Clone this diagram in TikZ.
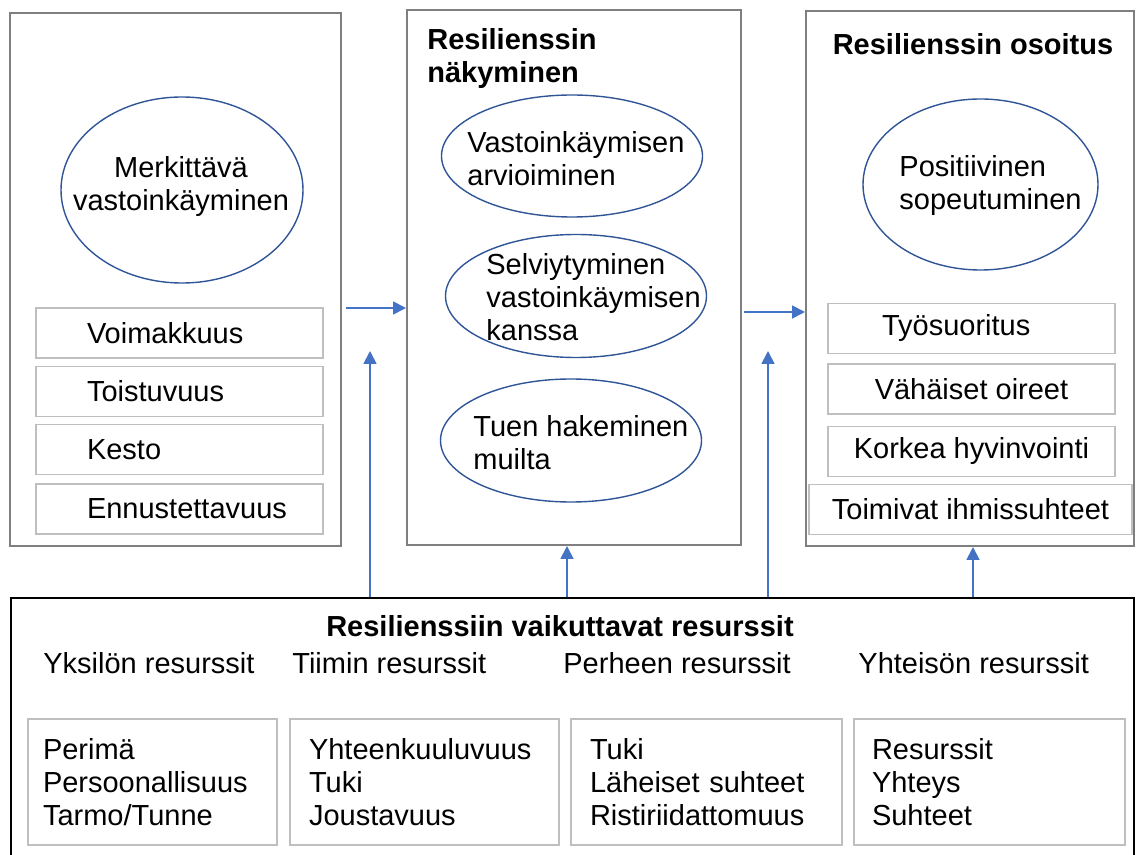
\documentclass[tikz,border=0pt]{standalone}
\usepackage{fontspec}
\setmainfont{Liberation Sans}
\usepackage{pgf,tikz}
\usetikzlibrary{arrows.meta,shapes.geometric}

\definecolor{framegray}{RGB}{127,127,127}
\definecolor{itemgray}{RGB}{191,191,191}
\definecolor{ovalblue}{RGB}{47,85,151}
\definecolor{arrowblue}{RGB}{68,114,196}
\newcommand{\diagfont}{\fontsize{14.5}{16.5}\selectfont}

\tikzset{
  frame/.style={draw=framegray,line width=1pt,inner sep=0pt},
  item/.style={draw=itemgray,line width=0.8pt,minimum width=143.5pt,minimum height=25pt,inner sep=0pt},
  oval/.style={ellipse,draw=ovalblue,line width=0.7pt,inner sep=0pt},
  txt/.style={inner sep=0pt,align=left},
  arr/.style={arrowblue,line width=0.9pt,-{Triangle[length=6.5pt,width=6.5pt]}}
}

\begin{document}
\begin{tikzpicture}[x=0.5pt,y=-0.5pt,font=\diagfont]

\useasboundingbox (0,0) rectangle (1136,855);

\node[frame,minimum width=165.5pt,minimum height=266.5pt] (adv) at (175.5,279.5) {};
\node[frame,minimum width=167pt,minimum height=267.5pt] (show) at (574,277.5) {};
\node[frame,minimum width=164pt,minimum height=267.5pt] (out) at (970,278.5) {};
\node[draw=black,line width=1pt,inner sep=0pt,minimum width=561.5pt,minimum height=131pt] (res) at (572.5,729) {};

\node[oval,minimum width=121pt,minimum height=93pt] (eadv) at (182,190) {};
\node[txt,anchor=north,align=center] (tadv) at (181,156) {Merkittävä\\vastoinkäyminen};

\node[item,text width=92.5pt,align=left] (voim) at (179.5,333) {Voimakkuus};
\node[item,text width=92.5pt,align=left] (tois) at (179.5,391.5) {Toistuvuus};
\node[item,text width=92.5pt,align=left] (kest) at (179.5,449.5) {Kesto};
\node[item,text width=92.5pt,align=left] (enn) at (179.5,509) {Ennustettavuus};

\node[txt,anchor=north west,font=\diagfont\bfseries] (tshow) at (427,28) {Resilienssin\\näkyminen};
\node[oval,minimum width=130.5pt,minimum height=61pt] (earv) at (572,156) {};
\node[txt,anchor=north west] (tarv) at (467,131) {Vastoinkäymisen\\arvioiminen};
\node[oval,minimum width=130.5pt,minimum height=61.5pt] (esel) at (576,296) {};
\node[txt,anchor=north west] (tsel) at (486,253) {Selviytyminen\\vastoinkäymisen\\kanssa};
\node[oval,minimum width=130.5pt,minimum height=61.5pt] (etuen) at (571,440.5) {};
\node[txt,anchor=north west] (ttuen) at (473,415) {Tuen hakeminen\\muilta};

\node[txt,anchor=north,font=\diagfont\bfseries] (tout) at (973,33) {Resilienssin osoitus};
\node[oval,minimum width=117.5pt,minimum height=85.5pt] (epos) at (980.5,184.5) {};
\node[txt,anchor=north west] (tpos) at (899,155) {Positiivinen\\sopeutuminen};

\node[item,text width=89.5pt,align=left] (tyo) at (971.5,328.5) {Työsuoritus};
\node[item] (vah) at (971.5,389) {Vähäiset oireet};
\node[item] (kork) at (971.5,451.5) {Korkea hyvinvointi};
\node[item,minimum width=161.5pt] (toim) at (970.5,509.5) {Toimivat ihmissuhteet};

\node[txt,anchor=north,font=\diagfont\bfseries] (tres) at (560,615) {Resilienssiin vaikuttavat resurssit};
\node[txt,anchor=north west] (hyks) at (43,652) {Yksilön resurssit};
\node[txt,anchor=north west] (htii) at (292,652) {Tiimin resurssit};
\node[txt,anchor=north west] (hper) at (563,652) {Perheen resurssit};
\node[txt,anchor=north west] (hyht) at (858,652) {Yhteisön resurssit};

\node[item,minimum width=124.5pt,minimum height=63pt,text width=109.5pt,align=left] (byks) at (152.5,782) {Perimä\\Persoonallisuus\\Tarmo/Tunne};
\node[item,minimum width=134.5pt,minimum height=63pt,text width=115.5pt,align=left] (btii) at (424.5,782) {Yhteenkuuluvuus\\Tuki\\Joustavuus};
\node[item,minimum width=135.5pt,minimum height=63pt,text width=116.5pt,align=left] (bper) at (706.5,782) {Tuki\\Läheiset suhteet\\Ristiriidattomuus};
\node[item,minimum width=135.5pt,minimum height=63pt,text width=117.5pt,align=left] (byht) at (989.5,782) {Resurssit\\Yhteys\\Suhteet};

\coordinate (a1) at (0,308);
\coordinate (a2) at (0,312);
\coordinate (u1) at (370,351);
\coordinate (u2) at (567,0);
\coordinate (u3) at (768,351);
\coordinate (u4) at (973,0);

\draw[arr,shorten <=2pt] (adv.east |- a1) -- (show.west |- a1);
\draw[arr,shorten <=1pt] (show.east |- a2) -- (out.west |- a2);
\draw[arr] (res.north -| u1) -- (u1);
\draw[arr] (res.north -| u2) -- (show.south -| u2);
\draw[arr] (res.north -| u3) -- (u3);
\draw[arr] (res.north -| u4) -- (out.south -| u4);

\end{tikzpicture}
\end{document}
